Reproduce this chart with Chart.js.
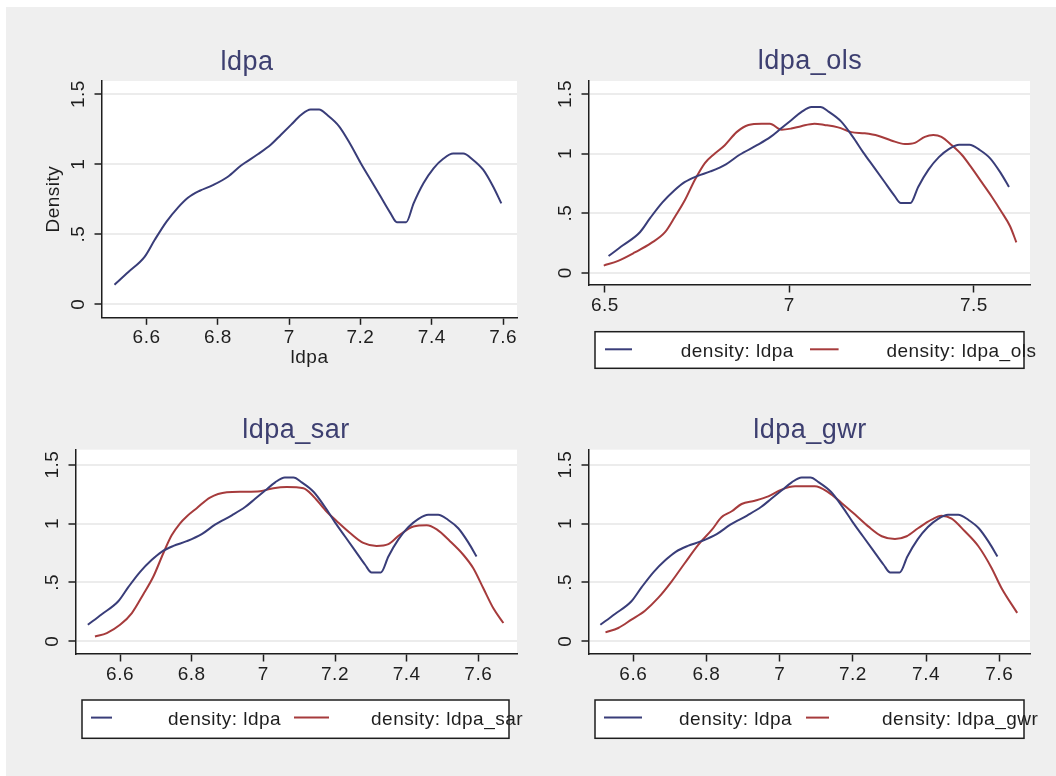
<!DOCTYPE html>
<html>
<head>
<meta charset="utf-8">
<script src="https://cdn.jsdelivr.net/npm/chart.js@4/dist/chart.umd.min.js"></script>
<style>
  html, body { margin: 0; padding: 0; background: #ffffff; }
  #page { position: relative; width: 1056px; height: 776px; overflow: hidden; }
  #backdrop { position: absolute; left: 6px; top: 7px; right: 0; bottom: 0; background: #efefef; }
  canvas { position: absolute; left: 0; top: 0; }
</style>
</head>
<body>
<div id="page">
  <div id="backdrop"></div>
  <canvas id="p1" width="1056" height="776"></canvas>
  <canvas id="p2" width="1056" height="776"></canvas>
  <canvas id="p3" width="1056" height="776"></canvas>
  <canvas id="p4" width="1056" height="776"></canvas>
</div>
<script>
// Kernel density estimates of ldpa and of the three model predictions
const ldpaX = [6.510, 6.549, 6.595, 6.623, 6.656, 6.688, 6.716, 6.749, 6.786, 6.828, 6.865, 6.912, 6.949, 6.977, 7.005, 7.033, 7.060, 7.084, 7.107, 7.140, 7.172, 7.200, 7.228, 7.256, 7.284, 7.302, 7.328, 7.349, 7.377, 7.405, 7.433, 7.460, 7.488, 7.516, 7.544, 7.572, 7.595];
const ldpaY = [0.14, 0.23, 0.34, 0.46, 0.59, 0.69, 0.76, 0.81, 0.85, 0.91, 0.99, 1.07, 1.14, 1.21, 1.28, 1.35, 1.39, 1.39, 1.35, 1.27, 1.14, 1.01, 0.89, 0.77, 0.65, 0.585, 0.585, 0.72, 0.865, 0.97, 1.04, 1.075, 1.075, 1.03, 0.96, 0.84, 0.72];

const olsX = [6.497, 6.536, 6.581, 6.626, 6.663, 6.690, 6.717, 6.744, 6.771, 6.798, 6.825, 6.857, 6.889, 6.925, 6.947, 6.979, 7.005, 7.032, 7.068, 7.095, 7.132, 7.168, 7.204, 7.240, 7.276, 7.313, 7.340, 7.367, 7.390, 7.412, 7.440, 7.467, 7.494, 7.521, 7.548, 7.575, 7.598, 7.615];
const olsY = [0.06, 0.10, 0.17, 0.25, 0.34, 0.47, 0.61, 0.78, 0.92, 1.00, 1.07, 1.18, 1.24, 1.25, 1.25, 1.20, 1.21, 1.23, 1.25, 1.24, 1.22, 1.18, 1.17, 1.15, 1.11, 1.08, 1.09, 1.14, 1.155, 1.14, 1.07, 0.99, 0.88, 0.76, 0.64, 0.51, 0.39, 0.255];

const sarX = [6.530, 6.563, 6.600, 6.633, 6.665, 6.693, 6.721, 6.744, 6.767, 6.786, 6.814, 6.851, 6.898, 6.944, 6.991, 7.028, 7.065, 7.112, 7.140, 7.177, 7.205, 7.242, 7.279, 7.316, 7.349, 7.381, 7.419, 7.456, 7.484, 7.521, 7.558, 7.586, 7.614, 7.642, 7.670];
const sarY = [0.04, 0.07, 0.14, 0.24, 0.40, 0.55, 0.75, 0.90, 1.00, 1.06, 1.13, 1.22, 1.265, 1.27, 1.275, 1.30, 1.31, 1.30, 1.23, 1.10, 1.02, 0.92, 0.835, 0.81, 0.825, 0.905, 0.975, 0.985, 0.95, 0.85, 0.735, 0.62, 0.45, 0.28, 0.155];

const gwrX = [6.524, 6.559, 6.595, 6.632, 6.668, 6.705, 6.741, 6.778, 6.815, 6.841, 6.869, 6.896, 6.932, 6.969, 7.005, 7.042, 7.096, 7.133, 7.169, 7.206, 7.242, 7.279, 7.315, 7.347, 7.379, 7.415, 7.442, 7.470, 7.506, 7.543, 7.579, 7.606, 7.649];
const gwrY = [0.076, 0.113, 0.184, 0.26, 0.368, 0.509, 0.665, 0.821, 0.948, 1.053, 1.104, 1.166, 1.194, 1.231, 1.288, 1.316, 1.316, 1.265, 1.175, 1.076, 0.976, 0.892, 0.869, 0.892, 0.962, 1.033, 1.067, 1.042, 0.934, 0.807, 0.623, 0.453, 0.241];

// Axis ticks and their printed labels
const xTicksFine = [6.6, 6.8, 7, 7.2, 7.4, 7.6];
const xTickLabelsFine = ['6.6', '6.8', '7', '7.2', '7.4', '7.6'];
const xTicksCoarse = [6.5, 7, 7.5];
const xTickLabelsCoarse = ['6.5', '7', '7.5'];
const yTicks = [0, 0.5, 1, 1.5];
const yTickLabels = ['0', '.5', '1', '1.5'];

const panelTitles = ['ldpa', 'ldpa_ols', 'ldpa_sar', 'ldpa_gwr'];
const baseLegend = 'density: ldpa';

const BLUE = '#393d79';
const RED = '#a63b3c';
const INK = '#1e1e1e';
const TITLE_INK = '#3d3f70';
const FONT = '"Liberation Sans", Arial, sans-serif';

const toPoints = (xs, ys) => xs.map((x, i) => ({ x, y: ys[i] }));

// Draws the white plot region, the titles, tick labels and legend for one panel
const panelDecor = {
  id: 'panelDecor',
  beforeDraw(chart, args, o) {
    const { ctx, chartArea: a } = chart;
    ctx.save();
    ctx.fillStyle = '#ffffff';
    ctx.fillRect(a.left, a.top, a.right - a.left, a.bottom - a.top);
    ctx.restore();
  },
  afterDraw(chart, args, o) {
    const { ctx, chartArea: a, scales: { x, y } } = chart;
    ctx.save();
    ctx.letterSpacing = '0.5px';

    // panel title
    ctx.font = '27px ' + FONT;
    ctx.fillStyle = TITLE_INK;
    ctx.textAlign = 'center';
    ctx.textBaseline = 'alphabetic';
    ctx.fillText(o.title, o.titleX, o.titleY);

    // x tick labels
    ctx.font = '19px ' + FONT;
    ctx.fillStyle = INK;
    o.xTicks.forEach((v, i) => {
      ctx.fillText(o.xLabels[i], x.getPixelForValue(v), a.bottom + 26);
    });

    // y tick labels, written vertically
    yTicks.forEach((v, i) => {
      ctx.save();
      ctx.translate(a.left - 18.5, y.getPixelForValue(v));
      ctx.rotate(-Math.PI / 2);
      ctx.textAlign = 'center';
      ctx.fillText(yTickLabels[i], 0, 0);
      ctx.restore();
    });

    // axis titles
    if (o.xTitle) {
      ctx.textAlign = 'center';
      ctx.fillText(o.xTitle, (a.left + a.right) / 2, a.bottom + 46);
    }
    if (o.yTitle) {
      ctx.save();
      ctx.translate(a.left - 43.5, (a.top + a.bottom) / 2);
      ctx.rotate(-Math.PI / 2);
      ctx.textAlign = 'center';
      ctx.fillText(o.yTitle, 0, 0);
      ctx.restore();
    }

    // legend
    if (o.legend) {
      const L = o.legend;
      ctx.fillStyle = '#ffffff';
      ctx.fillRect(L.x, L.y, L.w, L.h);
      ctx.strokeStyle = INK;
      ctx.lineWidth = 1.5;
      ctx.strokeRect(L.x, L.y, L.w, L.h);
      const lineY = L.y + 17.6;
      const textY = L.y + 25.3;
      L.items.forEach(it => {
        ctx.strokeStyle = it.color;
        ctx.lineWidth = 2;
        ctx.beginPath();
        ctx.moveTo(it.x0, lineY);
        ctx.lineTo(it.x1, lineY);
        ctx.stroke();
        ctx.fillStyle = INK;
        ctx.textAlign = 'left';
        ctx.fillText(it.text, it.tx, textY);
      });
    }
    ctx.restore();
  }
};

function makePanel(id, p) {
  const datasets = p.series.map(s => ({
    data: toPoints(s.xs, s.ys),
    borderColor: s.color,
    borderWidth: 2,
    pointRadius: 0,
    fill: false,
    cubicInterpolationMode: 'monotone'
  }));
  const W = 1056, H = 776, AX = 10;
  new Chart(document.getElementById(id), {
    type: 'line',
    data: { datasets },
    plugins: [panelDecor],
    options: {
      responsive: false,
      animation: false,
      devicePixelRatio: 1,
      layout: {
        padding: {
          left: p.area.l - AX,
          top: p.area.t,
          right: W - p.area.r,
          bottom: H - p.area.b - AX
        }
      },
      plugins: {
        legend: { display: false },
        title: { display: false },
        tooltip: { enabled: false },
        panelDecor: {
          title: p.title, titleX: p.titleX, titleY: p.titleY,
          xTicks: p.xTicks, xLabels: p.xLabels,
          xTitle: p.xTitle, yTitle: p.yTitle,
          legend: p.legend
        }
      },
      scales: {
        x: {
          type: 'linear',
          min: p.xRange[0], max: p.xRange[1],
          afterBuildTicks: s => { s.ticks = p.xTicks.map(v => ({ value: v })); },
          afterFit: s => { s.height = AX; },
          ticks: { display: false },
          grid: { drawOnChartArea: false, drawTicks: true, tickLength: 7.5, tickColor: INK, tickWidth: 1.5 },
          border: { display: true, color: INK, width: 1.5 }
        },
        y: {
          type: 'linear',
          min: p.yRange[0], max: p.yRange[1],
          afterBuildTicks: s => { s.ticks = yTicks.map(v => ({ value: v })); },
          afterFit: s => { s.width = AX; },
          ticks: { display: false },
          grid: { color: '#ececec', lineWidth: 2, drawTicks: true, tickLength: 7.5, tickColor: INK, tickWidth: 1.5 },
          border: { display: true, color: INK, width: 1.5 }
        }
      }
    }
  });
}

makePanel('p1', {
  area: { l: 102, t: 81, r: 517, b: 317.3 },
  xRange: [6.475, 7.639], yRange: [-0.093, 1.593],
  xTicks: xTicksFine, xLabels: xTickLabelsFine,
  title: panelTitles[0], titleX: 247, titleY: 69.5,
  xTitle: 'ldpa', yTitle: 'Density',
  series: [{ xs: ldpaX, ys: ldpaY, color: BLUE }]
});

makePanel('p2', {
  area: { l: 589, t: 81, r: 1030, b: 285 },
  xRange: [6.457, 7.652], yRange: [-0.103, 1.609],
  xTicks: xTicksCoarse, xLabels: xTickLabelsCoarse,
  title: panelTitles[1], titleX: 810, titleY: 69.3,
  series: [
    { xs: ldpaX, ys: ldpaY, color: BLUE },
    { xs: olsX, ys: olsY, color: RED }
  ],
  legend: {
    x: 595, y: 331.7, w: 429, h: 36.6,
    items: [
      { color: BLUE, x0: 605, x1: 632, tx: 680.7, text: baseLegend },
      { color: RED, x0: 810, x1: 838.6, tx: 886.4, text: 'density: ' + panelTitles[1] }
    ]
  }
});

makePanel('p3', {
  area: { l: 76, t: 449.7, r: 517, b: 654 },
  xRange: [6.477, 7.708], yRange: [-0.108, 1.627],
  xTicks: xTicksFine, xLabels: xTickLabelsFine,
  title: panelTitles[2], titleX: 296, titleY: 438.3,
  series: [
    { xs: ldpaX, ys: ldpaY, color: BLUE },
    { xs: sarX, ys: sarY, color: RED }
  ],
  legend: {
    x: 82, y: 700, w: 427, h: 38.3,
    items: [
      { color: BLUE, x0: 91, x1: 112, tx: 168, text: baseLegend },
      { color: RED, x0: 294, x1: 329, tx: 371, text: 'density: ' + panelTitles[2] }
    ]
  }
});

makePanel('p4', {
  area: { l: 589, t: 449.7, r: 1030, b: 654 },
  xRange: [6.479, 7.684], yRange: [-0.108, 1.627],
  xTicks: xTicksFine, xLabels: xTickLabelsFine,
  title: panelTitles[3], titleX: 810, titleY: 438,
  series: [
    { xs: ldpaX, ys: ldpaY, color: BLUE },
    { xs: gwrX, ys: gwrY, color: RED }
  ],
  legend: {
    x: 595, y: 700, w: 429, h: 38.3,
    items: [
      { color: BLUE, x0: 604, x1: 642, tx: 679, text: baseLegend },
      { color: RED, x0: 806, x1: 829, tx: 882, text: 'density: ' + panelTitles[3] }
    ]
  }
});
</script>
</body>
</html>
